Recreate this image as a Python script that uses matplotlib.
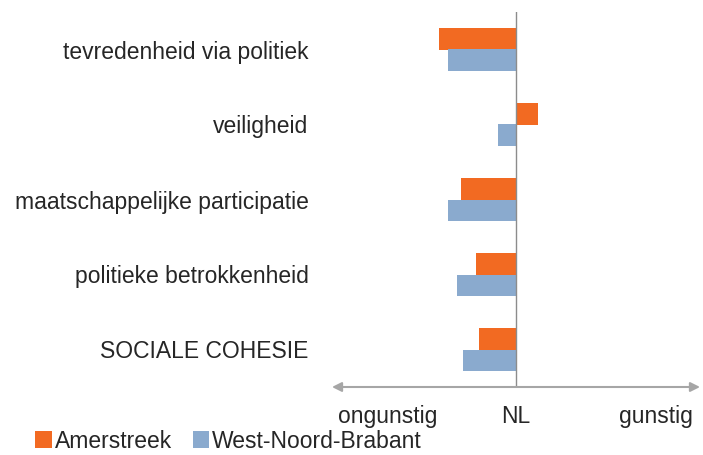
import matplotlib
matplotlib.use("Agg")
import matplotlib.pyplot as plt
import numpy as np

plt.rcParams["font.family"] = ["Liberation Sans", "DejaVu Sans"]

# bottom-to-top order
CATEGORIES = [
    "SOCIALE COHESIE",
    "politieke betrokkenheid",
    "maatschappelijke participatie",
    "veiligheid",
    "tevredenheid via politiek",
]
AMERSTREEK = [-0.20, -0.22, -0.30, 0.12, -0.42]
WEST_NOORD_BRABANT = [-0.29, -0.32, -0.37, -0.10, -0.37]

TICK_POS = [-0.70, 0.0, 0.76]
TICK_LABELS = ["ongunstig", "NL", "gunstig"]

ORANGE = "#F26A22"
BLUE = "#8AAACE"
GREY = "#A6A6A6"
TEXT = "#262626"

fig = plt.figure(figsize=(7.03, 4.55), dpi=100)
ax = fig.add_axes([332 / 703, 68 / 455, 368 / 703, 375 / 455])

y = np.arange(len(CATEGORIES))
h = 0.287
ax.barh(y + h / 2, AMERSTREEK, height=h, color=ORANGE, label="Amerstreek")
ax.barh(y - h / 2, WEST_NOORD_BRABANT, height=h, color=BLUE,
        label="West-Noord-Brabant")

ax.set_xlim(-1.0, 1.0)
ax.set_ylim(-0.5, len(CATEGORIES) - 0.5)
ax.axvline(0, color="#8C8C8C", lw=1, zorder=3)

for s in ax.spines.values():
    s.set_visible(False)

# double-headed arrow as the x axis
ax.annotate("", xy=(1.0, 0), xytext=(0.0, 0), xycoords="axes fraction",
            arrowprops=dict(arrowstyle="<|-|>", color=GREY, lw=1.5,
                            shrinkA=0, shrinkB=0, mutation_scale=14),
            annotation_clip=False)

ax.set_yticks(y)
ax.set_yticklabels(CATEGORIES, fontsize=16.5, color=TEXT)
ax.tick_params(axis="y", length=0, pad=17)
ax.set_xticks(TICK_POS)
ax.set_xticklabels(TICK_LABELS, fontsize=16.5, color=TEXT)
ax.tick_params(axis="x", length=0, pad=13)

fig.legend(loc="center left", bbox_to_anchor=(24 / 703, 1 - 441 / 455),
           ncol=2, frameon=False, fontsize=16.5, handlelength=0.7,
           handleheight=0.7, handletextpad=0.15, columnspacing=0.9,
           borderpad=0, labelcolor=TEXT)

fig.savefig("out.png", dpi=100)
